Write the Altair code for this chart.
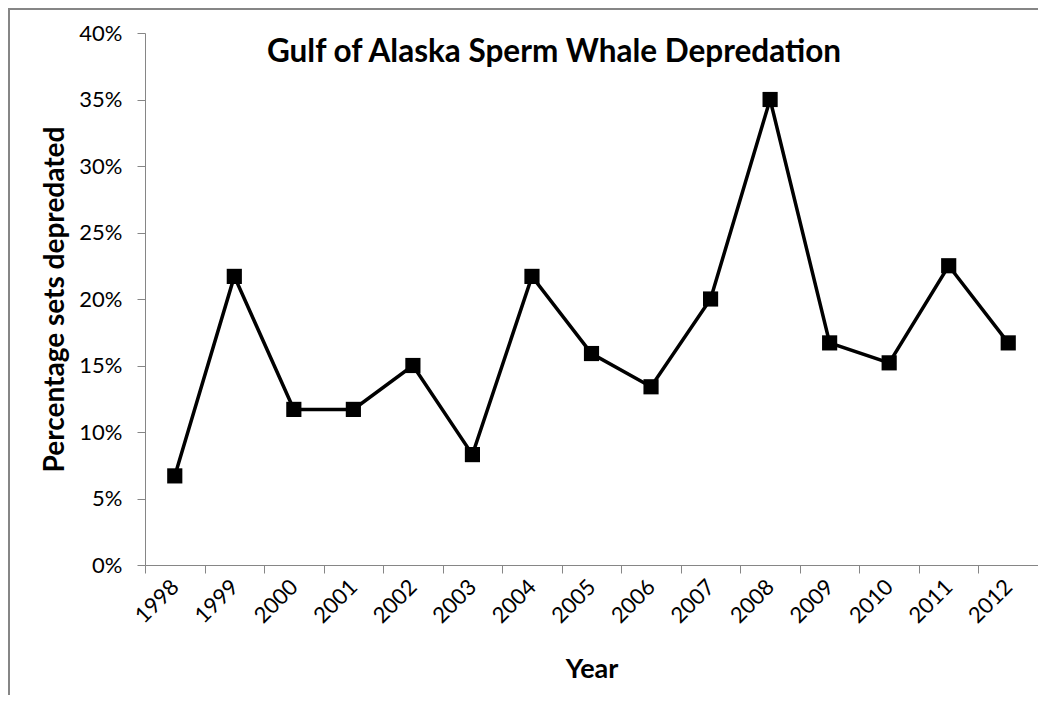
import altair as alt
import pandas as pd

years = ["1998", "1999", "2000", "2001", "2002", "2003", "2004", "2005",
         "2006", "2007", "2008", "2009", "2010", "2011", "2012"]
pct = [0.067, 0.217, 0.117, 0.117, 0.150, 0.083, 0.217, 0.159,
       0.134, 0.200, 0.350, 0.167, 0.152, 0.225, 0.167]
y_ticks = [0.0, 0.05, 0.10, 0.15, 0.20, 0.25, 0.30, 0.35, 0.40]

title_text = "Gulf of Alaska Sperm Whale Depredation"
x_title = "Year"
y_title = "Percentage sets depredated"

df = pd.DataFrame({"Year": years, "Pct": pct})

W, H = 893, 532
FONT = "Lato"
AX = "#868686"

x_enc = alt.X(
    "Year:O",
    bandPosition=0.5,
    scale=alt.Scale(type="band", paddingInner=0, paddingOuter=0),
    axis=alt.Axis(
        title=x_title, labelAngle=-45, labelAlign="right", labelBaseline="middle",
        labelFontSize=22, labelColor="#000000", labelFont=FONT, labelPadding=10,
        tickBand="extent", tickSize=8, tickColor=AX, domainColor=AX,
        titleFont=FONT, titleFontSize=27, titleFontWeight="bold", titleColor="#000000",
        titleX=W / 2, titleY=104, titleAlign="center", titleBaseline="middle",
        grid=False,
    ),
)
y_enc = alt.Y(
    "Pct:Q",
    scale=alt.Scale(domain=[0, 0.4], nice=False, zero=True),
    axis=alt.Axis(
        title=y_title, values=y_ticks, format=".0%",
        labelFontSize=22, labelColor="#000000", labelFont=FONT, labelPadding=15,
        tickSize=8, tickColor=AX, domainColor=AX, grid=False,
        titleFont=FONT, titleFontSize=28, titleFontWeight="bold", titleColor="#000000",
        titleX=-90, titleY=H / 2, titleAlign="center", titleBaseline="middle",
        titleAngle=270,
    ),
)

base = alt.Chart(df)
line = base.mark_line(color="#000000", strokeWidth=3.5).encode(x=x_enc, y=y_enc)
pts = base.mark_point(shape="square", filled=True, size=230, color="#000000",
                      opacity=1).encode(x=x_enc, y=y_enc)

title_df = pd.DataFrame({"t": [title_text]})
title = alt.Chart(title_df).mark_text(
    font=FONT, fontSize=31.5, fontWeight="bold", color="#000000",
    align="center", baseline="middle",
).encode(text="t:N", x=alt.value(409), y=alt.value(20))

border_top = alt.Chart(title_df).mark_rule(color=AX, strokeWidth=2).encode(
    x=alt.value(-137), x2=alt.value(W + 10), y=alt.value(-24)
)
border_left = alt.Chart(title_df).mark_rule(color=AX, strokeWidth=2).encode(
    x=alt.value(-136), y=alt.value(-25), y2=alt.value(H + 140)
)

chart = alt.layer(border_top, border_left, line, pts, title).properties(
    width=W, height=H,
    autosize=alt.AutoSizeParams(type="none"),
    padding={"left": 137, "top": 25, "right": 0, "bottom": 130},
    background="#ffffff",
).configure_view(strokeWidth=0)

chart.save("out.html", embed_options={"renderer": "svg", "actions": False})
